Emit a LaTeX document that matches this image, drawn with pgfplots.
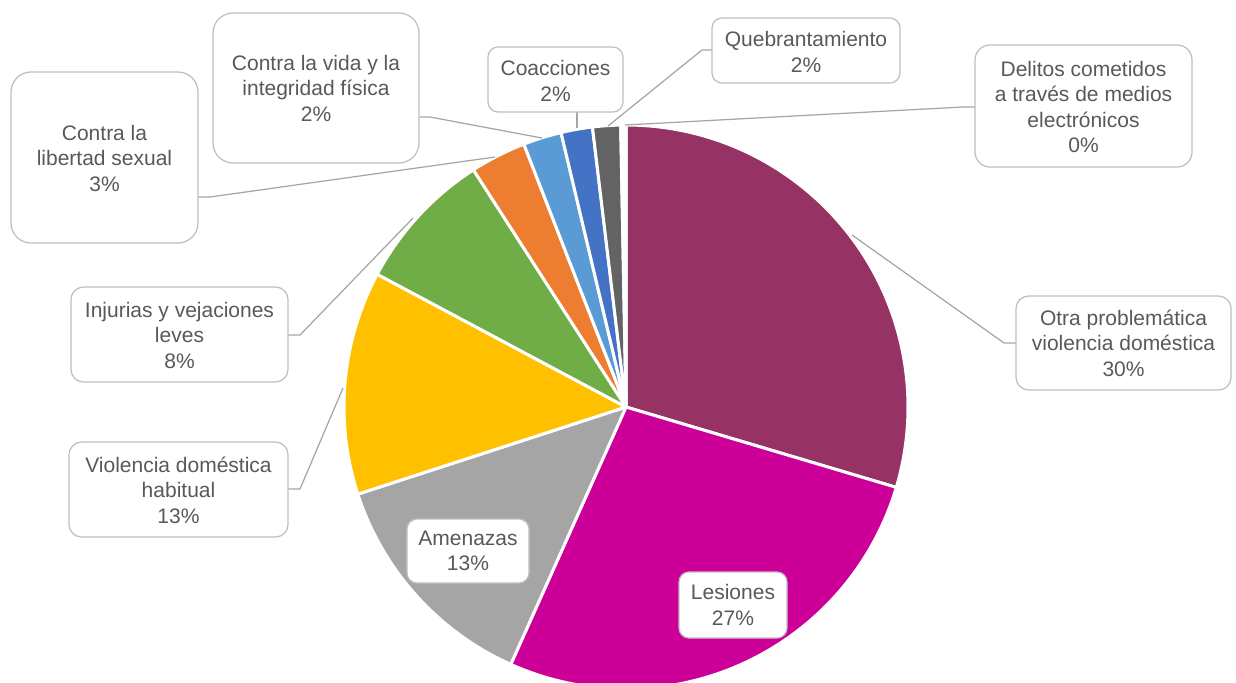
\documentclass[border=0pt]{standalone}
\usepackage{pgfplots}
\pgfplotsset{compat=1.18}
\usepackage{fontspec}
\setmainfont{Liberation Sans}

\definecolor{cOtra}{HTML}{963264}
\definecolor{cLes}{HTML}{CC0099}
\definecolor{cAme}{HTML}{A5A5A5}
\definecolor{cVio}{HTML}{FFC000}
\definecolor{cInj}{HTML}{70AD47}
\definecolor{cLib}{HTML}{ED7D31}
\definecolor{cVida}{HTML}{5B9BD5}
\definecolor{cCoa}{HTML}{4472C4}
\definecolor{cQue}{HTML}{636363}
\definecolor{cDel}{HTML}{FFFFFF}
\definecolor{txt}{HTML}{595959}
\definecolor{boxc}{HTML}{BFBFBF}
\definecolor{lead}{HTML}{A6A6A6}

\begin{document}
\begin{tikzpicture}[
  lbl/.style={align=center, text=txt, font=\fontsize{8.4}{10.2}\selectfont, inner sep=0pt},
  bx/.style={draw=boxc, fill=white, line width=0.5pt},
  ld/.style={draw=lead, line width=0.5pt}]
\begin{axis}[
  scale only axis, width=494.4pt, height=272.8pt,
  xmin=0, xmax=1236, ymin=0, ymax=682, y dir=reverse,
  hide axis]

% share of each category, percent (clockwise from 12 o'clock)
\xdef\startang{90}
\foreach \v/\c in {29.6/cOtra, 27.1/cLes, 13.3/cAme, 12.8/cVio, 8.1/cInj,
                   3.2/cLib, 2.2/cVida, 1.8/cCoa, 1.6/cQue, 0.3/cDel}{
  \pgfmathsetmacro{\endang}{\startang-3.6*\v}
  \edef\temp{\noexpand\addplot[fill=\c, draw=white, line width=1.2pt, line join=round,
     domain=\endang:\startang, samples=90]
     ({626+282*cos(x)},{407-282*sin(x)}) -- (axis cs:626,407) -- cycle;}
  \temp
  \xdef\startang{\endang}
}

% leader lines
\addplot[ld] coordinates {(852,235) (1004,343) (1016,343)};
\addplot[ld] coordinates {(413,218) (300,335) (288,335)};
\addplot[ld] coordinates {(343,388) (300,489) (288,489)};
\addplot[ld] coordinates {(495,157) (210,197) (198,197)};
\addplot[ld] coordinates {(542,138) (430,117) (419,117)};
\addplot[ld] coordinates {(577,128) (577,112)};
\addplot[ld] coordinates {(608,126) (702,50) (712,50)};
\addplot[ld] coordinates {(625,125) (963,107) (975,107)};

% label boxes
\draw[bx, rounded corners=5pt] (axis cs:1016,296) rectangle (axis cs:1231,390);
\draw[bx, rounded corners=4pt] (axis cs:679,572) rectangle (axis cs:787,638);
\draw[bx, rounded corners=4pt] (axis cs:407,519) rectangle (axis cs:529,583);
\draw[bx, rounded corners=5pt] (axis cs:69,442) rectangle (axis cs:288,537);
\draw[bx, rounded corners=5pt] (axis cs:71,287) rectangle (axis cs:288,382);
\draw[bx, rounded corners=8pt] (axis cs:11,72) rectangle (axis cs:198,243);
\draw[bx, rounded corners=8pt] (axis cs:213,13) rectangle (axis cs:419,163);
\draw[bx, rounded corners=4pt] (axis cs:488,47) rectangle (axis cs:623,112);
\draw[bx, rounded corners=4pt] (axis cs:712,18) rectangle (axis cs:900,83);
\draw[bx, rounded corners=6pt] (axis cs:975,45) rectangle (axis cs:1192,167);

\node[lbl] at (axis cs:1123.5,343) {Otra problemática\\violencia doméstica\\30\%};
\node[lbl] at (axis cs:733,605) {Lesiones\\27\%};
\node[lbl] at (axis cs:468,551) {Amenazas\\13\%};
\node[lbl] at (axis cs:178.5,490) {Violencia doméstica\\habitual\\13\%};
\node[lbl] at (axis cs:179.5,335) {Injurias y vejaciones\\leves\\8\%};
\node[lbl] at (axis cs:104.5,158) {Contra la\\libertad sexual\\3\%};
\node[lbl] at (axis cs:316,88) {Contra la vida y la\\integridad física\\2\%};
\node[lbl] at (axis cs:555.5,81) {Coacciones\\2\%};
\node[lbl] at (axis cs:806,52) {Quebrantamiento\\2\%};
\node[lbl] at (axis cs:1083.5,107) {Delitos cometidos\\a través de medios\\electrónicos\\0\%};
\end{axis}
\pgfresetboundingbox
\path (current axis.south west) rectangle (current axis.north east);
\end{tikzpicture}
\end{document}
